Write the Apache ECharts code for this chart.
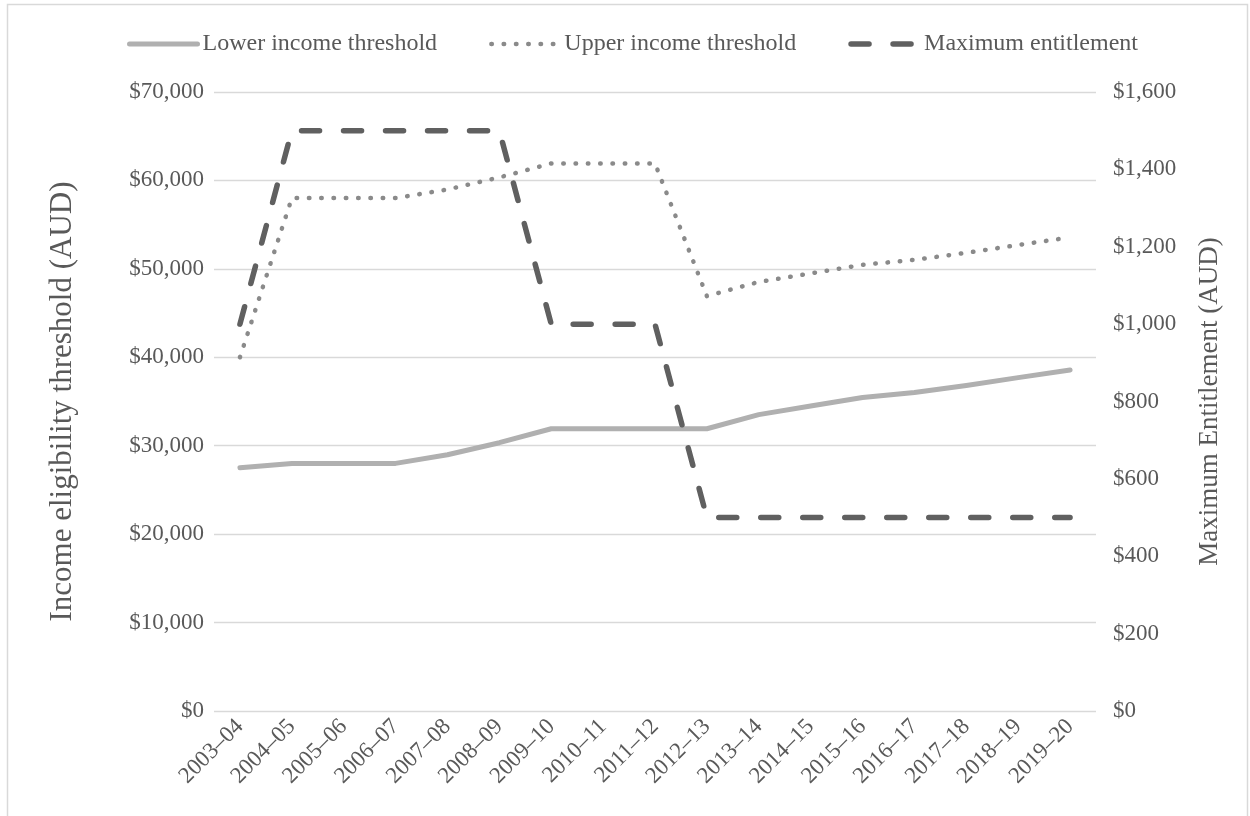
<!DOCTYPE html>
<html>
<head>
<meta charset="utf-8">
<script src="https://cdn.jsdelivr.net/npm/echarts@6/dist/echarts.min.js"></script>
<style>
html,body{margin:0;padding:0;background:#fff;}
#chart{width:1250px;height:816px;}
</style>
</head>
<body>
<div id="chart"></div>
<script>
const categories = ['2003–04','2004–05','2005–06','2006–07','2007–08','2008–09','2009–10','2010–11','2011–12','2012–13','2013–14','2014–15','2015–16','2016–17','2017–18','2018–19','2019–20'];
const lowerThreshold = [27500,28000,28000,28000,28980,30342,31920,31920,31920,31920,33516,34488,35454,36021,36813,37697,38564];
const upperThreshold = [40000,58000,58000,58000,58980,60342,61920,61920,61920,46920,48516,49488,50454,51021,51813,52697,53564];
const maxEntitlement = [1000,1500,1500,1500,1500,1500,1000,1000,1000,500,500,500,500,500,500,500,500];
const leftTicks = [0,10000,20000,30000,40000,50000,60000,70000];
const rightTicks = [0,200,400,600,800,1000,1200,1400,1600];

const FONT = '"Liberation Serif","Times New Roman",serif';
const TXT = '#595959';
const fmt = v => '$' + v.toLocaleString('en-US');

const styles = {
  lower:{color:'#b0b0b0',width:5,cap:'round',join:'round'},
  upper:{color:'#8a8a8a',width:4.5,type:[0.5,11.8],cap:'round',join:'round'},
  max:{color:'#606060',width:5.5,type:[18,24],cap:'round',join:'round'}
};

const chart = echarts.init(document.getElementById('chart'), null, {renderer:'canvas'});
chart.setOption({
  backgroundColor:'#fff',
  animation:false,
  textStyle:{fontFamily:FONT},
  graphic:[{type:'rect',shape:{x:7.5,y:4.5,width:1240,height:830},style:{fill:'none',stroke:'#d9d9d9',lineWidth:1.5},silent:true}],
  legend:{
    left:127, top:32, padding:0, itemWidth:68, itemHeight:14, itemGap:52,
    itemStyle:{opacity:0},
    textStyle:{fontFamily:FONT,fontSize:24,color:TXT},
    data:[
      {name:'Lower income threshold',lineStyle:Object.assign({},styles.lower,{type:'solid'})},
      {name:'Upper income threshold',lineStyle:styles.upper},
      {name:'Maximum entitlement',lineStyle:styles.max}
    ]
  },
  grid:{left:214,right:154,top:92,bottom:105,containLabel:false},
  xAxis:{
    type:'category', data:categories, boundaryGap:true,
    axisLine:{show:false}, axisTick:{show:false},
    axisLabel:{rotate:45,fontFamily:FONT,fontSize:23,color:TXT,margin:12,interval:0}
  },
  yAxis:[
    {type:'value',min:leftTicks[0],max:leftTicks[leftTicks.length-1],interval:10000,
     name:'Income eligibility threshold (AUD)',nameLocation:'middle',nameRotate:90,nameGap:136,
     nameTextStyle:{fontFamily:FONT,fontSize:31,color:TXT},
     axisLine:{show:false},axisTick:{show:false},
     splitLine:{lineStyle:{color:'#d9d9d9',width:1.3}},
     axisLabel:{formatter:fmt,fontFamily:FONT,fontSize:23,color:TXT,margin:10}},
    {type:'value',min:rightTicks[0],max:rightTicks[rightTicks.length-1],interval:200,position:'right',
     name:'Maximum Entitlement (AUD)',nameLocation:'middle',nameRotate:90,nameGap:100,
     nameTextStyle:{fontFamily:FONT,fontSize:27,color:TXT},
     axisLine:{show:false},axisTick:{show:false},splitLine:{show:false},
     axisLabel:{formatter:fmt,fontFamily:FONT,fontSize:23,color:TXT,margin:17}}
  ],
  series:[
    {name:'Lower income threshold',type:'line',yAxisIndex:0,data:lowerThreshold,
     symbol:'none',itemStyle:{color:styles.lower.color},lineStyle:styles.lower},
    {name:'Upper income threshold',type:'line',yAxisIndex:0,data:upperThreshold,
     symbol:'none',itemStyle:{color:styles.upper.color},lineStyle:styles.upper},
    {name:'Maximum entitlement',type:'line',yAxisIndex:1,data:maxEntitlement,
     symbol:'none',itemStyle:{color:styles.max.color},lineStyle:styles.max}
  ]
});
</script>
</body>
</html>
